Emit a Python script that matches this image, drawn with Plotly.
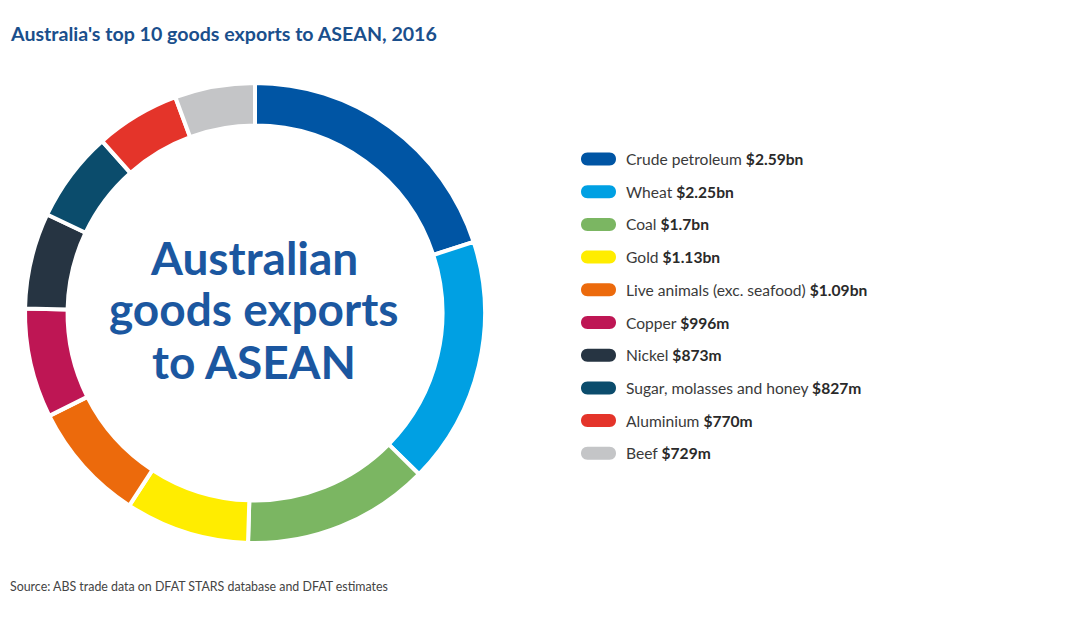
import plotly.graph_objs as go

# data
products = ['Crude petroleum', 'Wheat', 'Coal', 'Gold', 'Live animals (exc. seafood)',
            'Copper', 'Nickel', 'Sugar, molasses and honey', 'Aluminium', 'Beef']
values_m = [2590, 2250, 1700, 1130, 1090, 996, 873, 827, 770, 729]
value_labels = ['$2.59bn', '$2.25bn', '$1.7bn', '$1.13bn', '$1.09bn',
                '$996m', '$873m', '$827m', '$770m', '$729m']
colors = ['#0055a4', '#00a0e3', '#7bb662', '#ffed00', '#ec6a0c',
          '#be1654', '#263442', '#0b4c6c', '#e4342a', '#c4c5c7']
centre_lines = ['Australian', 'goods exports', 'to ASEAN']

# page body adds a small offset, so work in screen pixels minus that
OFF = 9
W, H = 1072 - 2 * OFF, 640 - 2 * OFF
BLUE = '#1a4f8c'


def px_x(x):
    return (x - OFF) / W


def px_y(y):
    return 1 - (y - OFF) / H


fig = go.Figure()

# donut ring
fig.add_trace(go.Pie(
    labels=products,
    values=values_m,
    sort=False,
    direction='clockwise',
    rotation=0,
    hole=0.815,
    textinfo='none',
    hoverinfo='label+value',
    marker=dict(colors=colors, line=dict(color='white', width=4)),
    domain=dict(x=[px_x(26), px_x(486)], y=[px_y(544), px_y(84)]),
    showlegend=False,
))

shapes = []
annotations = []

# custom legend with pill swatches
row0, step = 160, 32.7
for i, (name, lab, col) in enumerate(zip(products, value_labels, colors)):
    yc = row0 + i * step
    x0, x1, h = 582, 617, 13
    r = h / 2
    path = ('M {a},{t} L {b},{t} C {c},{t} {c},{bt} {b},{bt} '
            'L {a},{bt} C {d},{bt} {d},{t} {a},{t} Z').format(
        a=px_x(x0 + r), b=px_x(x1 - r), c=px_x(x1 + r * 0.33),
        d=px_x(x0 - r * 0.33), t=px_y(yc - r), bt=px_y(yc + r))
    shapes.append(dict(type='path', xref='paper', yref='paper', path=path,
                       fillcolor=col, line=dict(width=0)))
    annotations.append(dict(
        xref='paper', yref='paper', x=px_x(625), y=px_y(yc),
        xanchor='left', yanchor='middle', showarrow=False,
        text=name + ' <b style="color:#2a2a2a">' + lab + '</b>',
        font=dict(family='Lato', size=15.6, color='#3a3a3a')))

# centre text
for yc, line in zip([258, 310, 362], centre_lines):
    annotations.append(dict(
        xref='paper', yref='paper', x=px_x(255), y=px_y(yc),
        xanchor='center', yanchor='middle', showarrow=False,
        text='<b>' + line + '</b>',
        font=dict(family='Lato', size=46, color='#1b57a0')))

# title and source
annotations.append(dict(
    xref='paper', yref='paper', x=px_x(9), y=px_y(34),
    xanchor='left', yanchor='middle', showarrow=False,
    text="<b>Australia's top 10 goods exports to ASEAN, 2016</b>",
    font=dict(family='Lato', size=19.6, color=BLUE)))
annotations.append(dict(
    xref='paper', yref='paper', x=px_x(9), y=px_y(587),
    xanchor='left', yanchor='middle', showarrow=False,
    text='Source: ABS trade data on DFAT STARS database and DFAT estimates',
    font=dict(family='Lato', size=12.4, color='#444444')))

fig.update_layout(
    width=W, height=H,
    margin=dict(l=0, r=0, t=0, b=0),
    paper_bgcolor='white',
    plot_bgcolor='white',
    shapes=shapes,
    annotations=annotations,
)

fig.write_html("out.html")
